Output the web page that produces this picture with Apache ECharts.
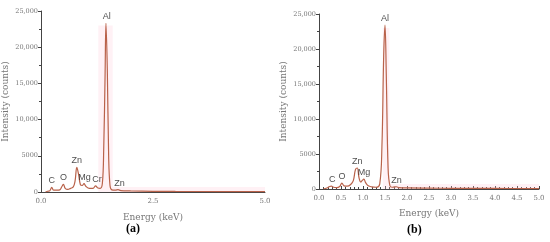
<!DOCTYPE html>
<html>
<head>
    <meta charset="UTF-8">
    <title>EDS spectra</title>
    <script src="https://cdn.jsdelivr.net/npm/echarts@6/dist/echarts.min.js"></script>
    <style>
        html, body { margin: 0; padding: 0; background: #fff; }
        #chart { width: 550px; height: 242px; }
    </style>
</head>
<body>
<div id="chart"></div>
<script type="text/javascript">
    // spectrum (a): energy in keV, intensity in counts
    const energyA = [0.10, 0.15, 0.20, 0.24, 0.28, 0.35, 0.42, 0.47, 0.50, 0.54, 0.60, 0.66, 0.72, 0.76, 0.80, 0.84,
        0.88, 0.92, 0.96, 1.00, 1.08, 1.16, 1.22, 1.26, 1.32, 1.37, 1.40, 1.43, 1.45, 1.48, 1.51, 1.54,
        1.58, 1.66, 1.72, 1.78, 2.0, 2.5, 3.0, 4.0, 5.0];
    const countsA = [0, 100, 200, 650, 250, 250, 300, 800, 1050, 500, 350, 500, 700, 1500, 3400, 2400,
        1000, 900, 1150, 800, 500, 500, 850, 600, 500, 1200, 6000, 16000, 23300, 17000, 5000, 900,
        300, 250, 320, 200, 150, 100, 80, 60, 50];

    // spectrum (b)
    const energyB = [0.10, 0.18, 0.24, 0.28, 0.33, 0.40, 0.47, 0.52, 0.57, 0.64, 0.72, 0.78, 0.83, 0.87, 0.91, 0.95,
        0.98, 1.02, 1.06, 1.12, 1.20, 1.30, 1.38, 1.43, 1.47, 1.50, 1.53, 1.57, 1.61, 1.66, 1.72, 1.76,
        1.82, 2.0, 2.5, 3.0, 4.0, 5.0];
    const countsB = [0, 150, 350, 420, 250, 200, 350, 850, 450, 400, 650, 1200, 2800, 3000, 1600, 1000,
        1200, 1400, 900, 450, 300, 250, 700, 6000, 19000, 23400, 16000, 3000, 500, 250, 300, 320,
        200, 150, 120, 100, 80, 60];

    // peak labels
    const peakNamesA = ['C', 'O', 'Zn', 'Mg', 'Cr', 'Al', 'Zn'];
    const peakEnergyA = [0.24, 0.50, 0.80, 0.97, 1.25, 1.47, 1.75];
    const peakCountsA = [650, 1050, 3400, 1150, 850, 23300, 320];

    const peakNamesB = ['C', 'O', 'Zn', 'Mg', 'Al', 'Zn'];
    const peakEnergyB = [0.30, 0.52, 0.87, 1.02, 1.50, 1.76];
    const peakCountsB = [420, 850, 3000, 1400, 23400, 320];

    const yTicks = [0, 5000, 10000, 15000, 20000, 25000];
    const yTickLabels = ['0', '5000', '10,000', '15,000', '20,000', '25,000'];

    const lineColor = '#b9624a';
    const pink = 'rgba(255, 200, 215, 0.25)';
    const labelFont = 'DejaVu Serif';

    function pairs(xs, ys) {
        return xs.map((x, i) => [x, ys[i]]);
    }

    function yLabel(v) {
        let i = yTicks.indexOf(v);
        return i >= 0 ? yTickLabels[i] : '';
    }

    function xAxisOf(gridIndex, interval, showMinor) {
        return {
            gridIndex: gridIndex,
            type: 'value',
            min: 0,
            max: 5,
            interval: interval,
            name: 'Energy (keV)',
            nameLocation: 'middle',
            nameGap: gridIndex === 0 ? 21 : 20,
            nameTextStyle: { color: '#777', fontSize: 9, fontFamily: labelFont },
            axisLine: { lineStyle: { color: '#444', width: 1 } },
            axisTick: { show: showMinor, length: 3, inside: true, lineStyle: { color: '#444' } },
            minorTick: { show: showMinor, splitNumber: 5, length: 2, lineStyle: { color: '#444' } },
            axisLabel: { color: '#777', fontSize: 7, fontFamily: labelFont, margin: 6, formatter: v => v.toFixed(1) },
            splitLine: { show: false }
        };
    }

    function yAxisOf(gridIndex) {
        return {
            gridIndex: gridIndex,
            type: 'value',
            min: 0,
            max: 25000,
            interval: 5000,
            name: 'Intensity (counts)',
            nameLocation: 'middle',
            nameGap: 31,
            nameTextStyle: { color: '#777', fontSize: 9, fontFamily: labelFont },
            axisLine: { show: true, lineStyle: { color: '#444', width: 1 } },
            axisTick: { show: true, length: 3, lineStyle: { color: '#444' } },
            minorTick: { show: true, splitNumber: 2, length: 2, lineStyle: { color: '#444' } },
            axisLabel: { color: '#777', fontSize: 6.5, fontFamily: labelFont, margin: 3, formatter: yLabel },
            splitLine: { show: false }
        };
    }

    function spectrum(idx, xs, ys, areas) {
        return {
            type: 'line',
            xAxisIndex: idx,
            yAxisIndex: idx,
            data: pairs(xs, ys),
            smooth: 0.4,
            showSymbol: false,
            lineStyle: { color: lineColor, width: 1.2 },
            markArea: {
                silent: true,
                itemStyle: { color: pink },
                data: areas
            },
            z: 3
        };
    }

    function peakLabels(idx, names, xs, ys) {
        return {
            type: 'scatter',
            xAxisIndex: idx,
            yAxisIndex: idx,
            symbolSize: 0,
            data: xs.map((x, i) => ({ value: [x, ys[i]], name: names[i] })),
            label: {
                show: true,
                position: 'top',
                distance: 2,
                formatter: p => p.name,
                color: '#222',
                fontSize: 9,
                fontFamily: 'Liberation Sans'
            },
            silent: true,
            z: 4
        };
    }

    let chart = echarts.init(document.getElementById('chart'), null, { renderer: 'canvas' });

    let option = {
        animation: false,
        backgroundColor: '#fff',
        grid: [
            { left: 40, right: 285, top: 11, bottom: 50 },
            { left: 319, right: 11, top: 14, bottom: 53 }
        ],
        xAxis: [xAxisOf(0, 2.5, false), xAxisOf(1, 0.5, true)],
        yAxis: [yAxisOf(0), yAxisOf(1)],
        series: [
            spectrum(0, energyA, countsA, [
                [{ xAxis: 1.28, yAxis: 0 }, { xAxis: 1.6, yAxis: 23000 }],
                [{ xAxis: 1.6, yAxis: 0 }, { xAxis: 5.0, yAxis: 700 }]
            ]),
            spectrum(1, energyB, countsB, [
                [{ xAxis: 1.45, yAxis: 0 }, { xAxis: 1.6, yAxis: 23000 }],
                [{ xAxis: 1.6, yAxis: 0 }, { xAxis: 5.0, yAxis: 700 }]
            ]),
            peakLabels(0, peakNamesA, peakEnergyA, peakCountsA),
            peakLabels(1, peakNamesB, peakEnergyB, peakCountsB)
        ],
        graphic: [
            { type: 'text', left: 126, top: 223, style: { text: '(a)', fontSize: 12, fontWeight: 'bold', fontFamily: 'Liberation Serif', fill: '#000' } },
            { type: 'text', left: 407, top: 224, style: { text: '(b)', fontSize: 12, fontWeight: 'bold', fontFamily: 'Liberation Serif', fill: '#000' } }
        ]
    };

    chart.setOption(option);
</script>
</body>
</html>
